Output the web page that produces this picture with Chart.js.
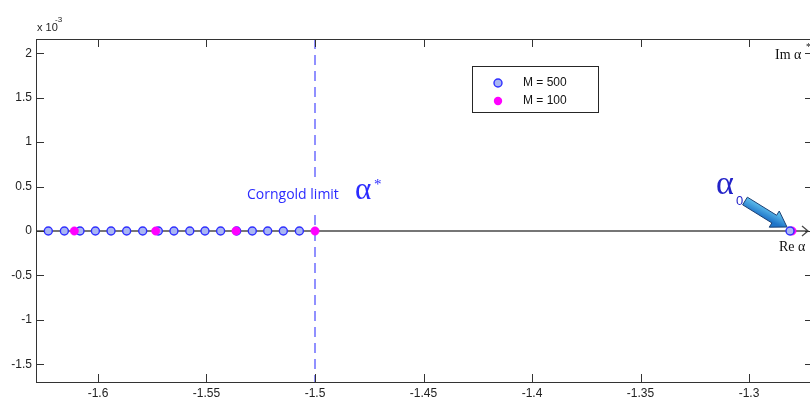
<!DOCTYPE html>
<html>
<head>
<meta charset="utf-8">
<script src="https://cdn.jsdelivr.net/npm/chart.js@4"></script>
<style>
  html, body { margin: 0; padding: 0; background: #fff; overflow: hidden; }
  #wrap { width: 830px; height: 399px; }
</style>
</head>
<body>
<div id="wrap"><canvas id="chart" width="830" height="399"></canvas></div>
<script>
// values on the real axis (imaginary part is 0, in units of 1e-3)
const m500X = [-1.6229, -1.6155, -1.6083, -1.6012, -1.5940, -1.5868, -1.5794, -1.5722, -1.5650,
               -1.5577, -1.5507, -1.5435, -1.5361, -1.5289, -1.5218, -1.5146, -1.5072];
const m100X = [-1.6109, -1.5734, -1.5364, -1.5000];
const alpha0X500 = [-1.2811];
const alpha0X100 = [-1.2802];
const corngoldX = -1.5;

const xTicks = [-1.6, -1.55, -1.5, -1.45, -1.4, -1.35, -1.3];
const xTickLabels = ['-1.6', '-1.55', '-1.5', '-1.45', '-1.4', '-1.35', '-1.3'];
const yTicks = [-1.5, -1, -0.5, 0, 0.5, 1, 1.5, 2];
const yTickLabels = ['-1.5', '-1', '-0.5', '0', '0.5', '1', '1.5', '2'];
const legendLabels = ['M = 500', 'M = 100'];

const toPts = xs => xs.map(x => ({ x: x, y: 0 }));

const blueStyle = { backgroundColor: '#a9b6f3', borderColor: '#2f2fff', pointRadius: 4, borderWidth: 1.4 };
const pinkStyle = { backgroundColor: '#ff00ff', borderColor: '#ff00ff', pointRadius: 4.2, borderWidth: 0.5 };

const tickFont = { family: 'Liberation Sans, Arial, sans-serif', size: 12 };

const decor = {
  id: 'decor',
  beforeDatasetsDraw(chart) {
    const ctx = chart.ctx, a = chart.chartArea;
    const xs = chart.scales.x, ys = chart.scales.y;
    const y0 = ys.getPixelForValue(0);
    ctx.save();
    // dashed corngold line
    const xc = xs.getPixelForValue(corngoldX);
    ctx.strokeStyle = '#6c6cff';
    ctx.lineWidth = 1.5;
    ctx.setLineDash([10, 6]);
    ctx.beginPath();
    ctx.moveTo(xc, a.top);
    ctx.lineTo(xc, a.bottom);
    ctx.stroke();
    ctx.setLineDash([]);
    // background behind the label
    ctx.fillStyle = '#fff';
    ctx.fillRect(244, 177, 142, 32);
    // real axis with arrow
    ctx.strokeStyle = '#4a4a4a';
    ctx.lineWidth = 1.3;
    ctx.beginPath();
    ctx.moveTo(a.left, y0);
    ctx.lineTo(808, y0);
    ctx.moveTo(802, y0 - 5);
    ctx.lineTo(808, y0);
    ctx.lineTo(802, y0 + 5);
    ctx.stroke();
    ctx.restore();
  },
  afterDatasetsDraw(chart) {
    const ctx = chart.ctx, a = chart.chartArea;
    const xs = chart.scales.x, ys = chart.scales.y;
    ctx.save();
    // axes box
    ctx.strokeStyle = '#333';
    ctx.lineWidth = 1;
    ctx.strokeRect(a.left + 0.5, a.top + 0.5, a.right - a.left, a.bottom - a.top);
    // inward ticks
    ctx.beginPath();
    xTicks.forEach(v => {
      const px = Math.round(xs.getPixelForValue(v)) + 0.5;
      ctx.moveTo(px, a.bottom); ctx.lineTo(px, a.bottom - 8);
      ctx.moveTo(px, a.top); ctx.lineTo(px, a.top + 8);
    });
    yTicks.forEach(v => {
      const py = Math.round(ys.getPixelForValue(v)) + 0.5;
      ctx.moveTo(a.left, py); ctx.lineTo(a.left + 8, py);
      ctx.moveTo(a.right, py); ctx.lineTo(a.right - 8, py);
    });
    ctx.stroke();

    // exponent label
    ctx.fillStyle = '#222';
    ctx.font = '11px Liberation Sans, Arial, sans-serif';
    ctx.textBaseline = 'alphabetic';
    ctx.fillText('x 10', 37, 31);
    ctx.font = '8px Liberation Sans, Arial, sans-serif';
    ctx.fillText('-3', 55, 22);

    // legend
    ctx.fillStyle = '#fff';
    ctx.fillRect(472, 66, 126, 46);
    ctx.strokeStyle = '#262626';
    ctx.strokeRect(472.5, 66.5, 126, 46);
    ctx.beginPath();
    ctx.arc(498, 83, blueStyle.pointRadius, 0, Math.PI * 2);
    ctx.fillStyle = blueStyle.backgroundColor; ctx.fill();
    ctx.lineWidth = blueStyle.borderWidth; ctx.strokeStyle = blueStyle.borderColor; ctx.stroke();
    ctx.beginPath();
    ctx.arc(498, 101, pinkStyle.pointRadius, 0, Math.PI * 2);
    ctx.fillStyle = pinkStyle.backgroundColor; ctx.fill();
    ctx.fillStyle = '#111';
    ctx.font = '12px Liberation Sans, Arial, sans-serif';
    ctx.textBaseline = 'middle';
    ctx.fillText(legendLabels[0], 523, 83);
    ctx.fillText(legendLabels[1], 523, 101);

    // Corngold label
    ctx.fillStyle = '#2b2bff';
    ctx.textBaseline = 'alphabetic';
    ctx.font = '14px Open Sans, DejaVu Sans, sans-serif';
    ctx.fillText('Corngold limit', 247, 199);
    ctx.font = '31px Liberation Serif, Times New Roman, serif';
    ctx.fillText('\u03b1', 355, 199);
    ctx.font = '15px Liberation Serif, serif';
    ctx.fillText('*', 374, 189);

    // alpha_0 label
    ctx.fillStyle = '#2323c8';
    ctx.font = '34px Liberation Serif, Times New Roman, serif';
    ctx.fillText('\u03b1', 716, 194);
    ctx.font = '13px Liberation Sans, Arial, sans-serif';
    ctx.fillText('0', 736, 205);

    // block arrow pointing at alpha_0
    const T = { x: 745, y: 201 }, H = { x: 787, y: 227 };
    const dx = H.x - T.x, dy = H.y - T.y, len = Math.hypot(dx, dy);
    const u = { x: dx / len, y: dy / len }, n = { x: -u.y, y: u.x };
    const B = { x: H.x - u.x * 15, y: H.y - u.y * 15 };
    const p = (o, k) => [o.x + n.x * k, o.y + n.y * k];
    const poly = [p(T, 4.5), p(B, 4.5), p(B, 9.5), [H.x, H.y], p(B, -9.5), p(B, -4.5), p(T, -4.5)];
    const g = ctx.createLinearGradient(T.x + 3, T.y - 6, T.x - 3, T.y + 6);
    g.addColorStop(0, '#6fd2f6');
    g.addColorStop(1, '#1f74c8');
    ctx.beginPath();
    poly.forEach((q, i) => i ? ctx.lineTo(q[0], q[1]) : ctx.moveTo(q[0], q[1]));
    ctx.closePath();
    ctx.fillStyle = g; ctx.fill();
    ctx.strokeStyle = '#1b3f73'; ctx.lineWidth = 1; ctx.stroke();

    // Im / Re labels
    ctx.fillStyle = '#111';
    ctx.font = '14px Liberation Serif, Times New Roman, serif';
    ctx.fillText('Im \u03b1', 775, 59);
    ctx.fillText('Re \u03b1', 779, 251);
    ctx.font = '10px Liberation Serif, serif';
    ctx.fillText('*', 806, 50);
    ctx.restore();
  }
};

new Chart(document.getElementById('chart'), {
  type: 'scatter',
  data: {
    datasets: [
      Object.assign({ label: 'a0 M=500', data: toPts(alpha0X500), order: 0 }, blueStyle),
      Object.assign({ label: 'a0 M=100', data: toPts(alpha0X100), order: 1 }, pinkStyle),
      Object.assign({ label: legendLabels[1], data: toPts(m100X), order: 2 }, pinkStyle),
      Object.assign({ label: legendLabels[0], data: toPts(m500X), order: 3 }, blueStyle)
    ]
  },
  options: {
    responsive: false,
    animation: false,
    devicePixelRatio: 1,
    layout: { padding: { top: 39, right: 17, left: 0, bottom: 0 } },
    plugins: { legend: { display: false }, tooltip: { enabled: false } },
    scales: {
      x: {
        type: 'linear',
        min: -1.62857,
        max: -1.27051,
        grid: { display: false, drawTicks: false },
        border: { display: false },
        afterBuildTicks: s => { s.ticks = xTicks.map(v => ({ value: v })); },
        afterFit: s => { s.height = 17; },
        ticks: {
          autoSkip: false, maxRotation: 0, padding: 4, color: '#222', font: tickFont,
          callback: (v, i) => xTickLabels[i]
        }
      },
      y: {
        type: 'linear',
        min: -1.7,
        max: 2.161,
        grid: { display: false, drawTicks: false },
        border: { display: false },
        afterBuildTicks: s => { s.ticks = yTicks.map(v => ({ value: v })); },
        afterFit: s => { s.width = 36; },
        ticks: {
          autoSkip: false, padding: 4, color: '#222', font: tickFont,
          callback: (v, i) => yTickLabels[i]
        }
      }
    }
  },
  plugins: [decor]
});
</script>
</body>
</html>
